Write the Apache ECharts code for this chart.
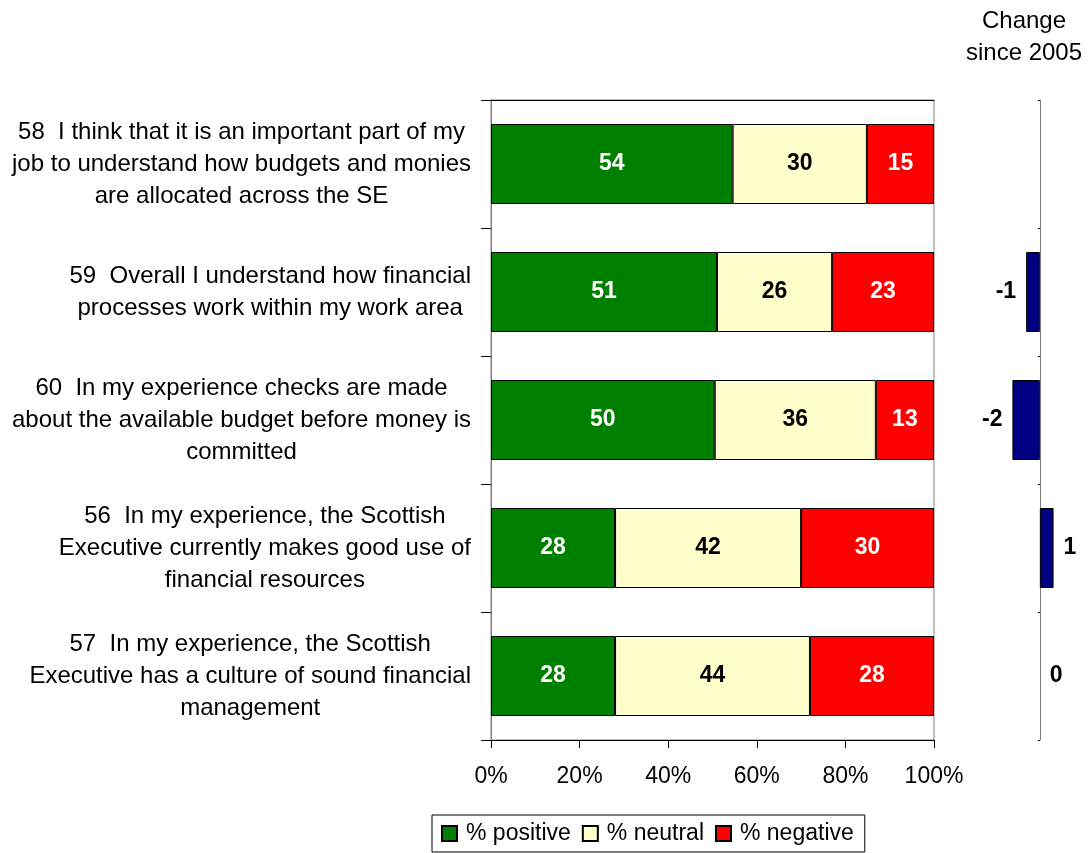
<!DOCTYPE html>
<html>
<head>
<meta charset="utf-8">
<title>Financial management survey</title>
<script src="https://cdn.jsdelivr.net/npm/echarts@6/dist/echarts.min.js"></script>
<style>
  html, body { margin: 0; padding: 0; background: #fff; }
  #chart { width: 1088px; height: 853px; }
</style>
</head>
<body>
<div id="chart"></div>
<script>
// Survey statements (top to bottom)
const categories = [
  '58  I think that it is an important part of my\njob to understand how budgets and monies\nare allocated across the SE',
  '59  Overall I understand how financial\nprocesses work within my work area',
  '60  In my experience checks are made\nabout the available budget before money is\ncommitted',
  '56  In my experience, the Scottish\nExecutive currently makes good use of\nfinancial resources',
  '57  In my experience, the Scottish\nExecutive has a culture of sound financial\nmanagement'
];
const positive = [54, 51, 50, 28, 28];
const neutral  = [30, 26, 36, 42, 44];
const negative = [15, 23, 13, 30, 28];
// Change since 2005 (no figure for statement 58)
const change = [null, -1, -2, 1, 0];
const xTickLabels = ['0%', '20%', '40%', '60%', '80%', '100%'];

const FONT = '"Liberation Sans", Arial, Helvetica, sans-serif';
const FS = 23;
const totals = positive.map((v, i) => v + neutral[i] + negative[i]);
const share = arr => arr.map((v, i) => v / totals[i] * 100);

// Each statement line is centred inside its own right-anchored block
const catLabel = txt => txt.split('\n').map(l => '{c|' + l + '}').join('\n');

const barLabel = (arr, color) => ({
  show: true,
  position: 'inside',
  color: color,
  fontFamily: FONT,
  fontSize: FS,
  fontWeight: 'bold',
  formatter: p => String(arr[p.dataIndex])
});

const chart = echarts.init(document.getElementById('chart'), null, { renderer: 'canvas' });

chart.setOption({
  animation: false,
  backgroundColor: '#fff',
  textStyle: { fontFamily: FONT },
  title: {
    text: 'Change\nsince 2005',
    left: 1019,
    top: 0,
    textAlign: 'center',
    textStyle: { fontFamily: FONT, fontSize: 24, fontWeight: 'normal', color: '#000', lineHeight: 32 }
  },
  legend: {
    data: ['% positive', '% neutral', '% negative'],
    left: 432,
    top: 815,
    orient: 'horizontal',
    icon: 'rect',
    itemWidth: 15,
    itemHeight: 15,
    itemGap: 11,
    padding: [7, 11, 7, 9],
    borderColor: '#000',
    borderWidth: 1,
    textStyle: { fontFamily: FONT, fontSize: FS, color: '#000', padding: [0, 0, 0, 4] }
  },
  grid: [
    { left: 491, right: 154, top: 100, bottom: 113, show: true, borderColor: '#808080', borderWidth: 1 },
    { left: 985, right: 7, top: 100, bottom: 113 }
  ],
  xAxis: [
    {
      gridIndex: 0, type: 'value', min: 0, max: 100, interval: 20,
      axisLine: { show: true, lineStyle: { color: '#000', width: 1 } },
      axisTick: { show: true, length: 8, lineStyle: { color: '#000' } },
      splitLine: { show: false },
      axisLabel: {
        margin: 25, fontFamily: FONT, fontSize: FS, color: '#000',
        formatter: v => xTickLabels[Math.round(v / 20)]
      }
    },
    {
      gridIndex: 0, type: 'value', min: 0, max: 100, position: 'top',
      axisLine: { show: true, lineStyle: { color: '#000', width: 1 } },
      axisTick: { show: false }, axisLabel: { show: false }, splitLine: { show: false }
    },
    {
      gridIndex: 1, type: 'value', min: -4, max: 3, show: false
    }
  ],
  yAxis: [
    {
      gridIndex: 0, type: 'category', data: categories, inverse: true,
      axisLine: { show: true, lineStyle: { color: '#000', width: 1 } },
      axisTick: { show: true, length: 10, lineStyle: { color: '#000' } },
      axisLabel: {
        margin: 20, color: '#000', align: 'right',
        fontFamily: FONT, fontSize: 24, lineHeight: 32,
        formatter: catLabel,
        rich: { c: { align: 'center', fontFamily: FONT, fontSize: 24, lineHeight: 32, color: '#000' } }
      }
    },
    {
      gridIndex: 0, type: 'category', data: categories, inverse: true, position: 'right',
      axisLine: { show: true, lineStyle: { color: '#808080', width: 1 } },
      axisTick: { show: false }, axisLabel: { show: false }
    },
    {
      gridIndex: 1, type: 'category', data: categories, inverse: true,
      axisLine: { show: true, onZero: true, lineStyle: { color: '#808080', width: 1 } },
      axisTick: { show: true, length: 2, inside: false, lineStyle: { color: '#000' } },
      axisLabel: { show: false }
    }
  ],
  series: [
    {
      name: '% positive', type: 'bar', stack: 'total', xAxisIndex: 0, yAxisIndex: 0,
      barWidth: 80, data: share(positive),
      itemStyle: { color: '#008000', borderColor: '#000', borderWidth: 1 },
      label: barLabel(positive, '#fff')
    },
    {
      name: '% neutral', type: 'bar', stack: 'total', xAxisIndex: 0, yAxisIndex: 0,
      barWidth: 80, data: share(neutral),
      itemStyle: { color: '#FFFFCC', borderColor: '#000', borderWidth: 1 },
      label: barLabel(neutral, '#000')
    },
    {
      name: '% negative', type: 'bar', stack: 'total', xAxisIndex: 0, yAxisIndex: 0,
      barWidth: 80, data: share(negative),
      itemStyle: { color: '#FF0000', borderColor: '#000', borderWidth: 1 },
      label: barLabel(negative, '#fff')
    },
    {
      type: 'bar', xAxisIndex: 2, yAxisIndex: 2, barWidth: 80, z: 1,
      data: change.map(v => v === null ? null : {
        value: v,
        // a zero change has no visible bar, only its label
        itemStyle: v === 0 ? { borderWidth: 0, opacity: 0 } : undefined,
        label: { position: v < 0 ? 'left' : 'right', opacity: 1 }
      }),
      itemStyle: { color: '#000080', borderColor: '#000', borderWidth: 1 },
      label: {
        show: true, distance: 10, color: '#000',
        fontFamily: FONT, fontSize: FS, fontWeight: 'bold',
        formatter: p => String(p.value)
      }
    }
  ]
});
</script>
</body>
</html>
